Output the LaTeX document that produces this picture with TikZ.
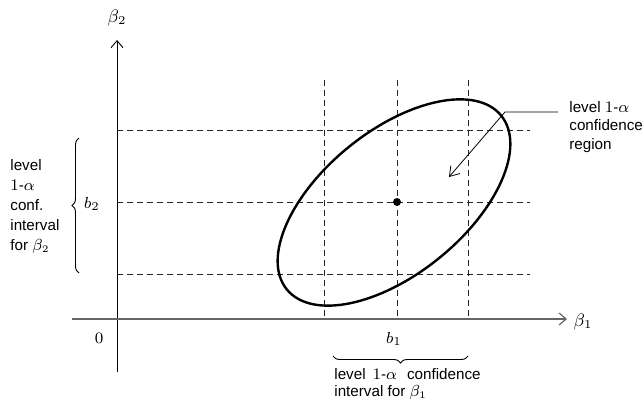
\documentclass[tikz,border=0pt]{standalone}
\usepackage[no-math]{fontspec}
\setmainfont{Liberation Sans}
\usetikzlibrary{arrows.meta, positioning, decorations.pathreplacing}

\begin{document}
\begin{tikzpicture}[x=0.5pt, y=-0.5pt,
  axis/.style={line width=0.45pt, -{Straight Barb[length=3.5pt, width=6pt]}},
  grid/.style={dash pattern=on 3pt off 2pt, line width=0.45pt, black!85},
  txt/.style={font=\fontsize{7.6}{10}\selectfont, align=left, inner sep=0pt},
  lab/.style={font=\fontsize{8}{9}\selectfont, inner sep=0pt},
  brc/.style={decorate, decoration={brace, amplitude=3.5pt}, line width=0.45pt}]
  \useasboundingbox (0,0) rectangle (644,407);

  % Axes
  \coordinate (ybot) at (117,372);
  \coordinate (ytop) at (117,40);
  \coordinate (xleft) at (72,319);
  \coordinate (xright) at (567,319);
  \draw[axis] (ybot) -- (ytop);
  \draw[axis, black!60, line width=0.6pt] (xleft) -- (xright);
  \node[lab, font=\fontsize{8.6}{9}\selectfont] (beta2) at (117,18) {$\beta_2$};
  \node[lab, font=\fontsize{8.6}{9}\selectfont] (beta1) at (583,322) {$\beta_1$};
  \node[lab] (zero) at (99,338) {$0$};

  % Dashed interval lines
  \foreach \y in {130,202,274}
    \draw[grid] (117,\y) -- (530,\y);
  \foreach \x in {324,397,468}
    \draw[grid] (\x,80) -- (\x,319);

  % Confidence region
  \coordinate (E) at (394,202.5);
  \draw[line width=1.2pt, rotate around={39:(E)}] (E) ellipse [x radius=69pt, y radius=35.8pt];
  \node[circle, fill=black, inner sep=0pt, minimum size=4pt] (b) at (397,202) {};

  % Estimates
  \node[lab] (b1) at (394,339) {$b_1$};
  \node[lab] (b2) at (92,204) {$b_2$};

  % Braces
  \coordinate (by1) at (79,273);
  \coordinate (by2) at (79,138);
  \draw[brc] (by1) -- (by2);
  \coordinate (bx1) at (468,356);
  \coordinate (bx2) at (333,356);
  \draw[brc] (bx1) -- (bx2);

  % Labels
  \node[txt, anchor=west] (ci2) at (10,207) {level\\$1$-$\alpha$\\conf.\\interval\\for $\beta_2$};
  \node[txt, font=\fontsize{7.6}{8.2}\selectfont, anchor=west] (ci1) at (334,384)
    {level\hspace{3.5pt}$1$-$\alpha$\hspace{5pt}confidence\\ interval for $\beta_1$};
  \node[txt, font=\fontsize{7.6}{9.2}\selectfont, anchor=west] (reg) at (569,127) {level $1$-$\alpha$\\confidence\\region};

  % Pointer to region
  \coordinate (regpt) at (558,112);
  \coordinate (bend) at (505,112);
  \coordinate (tip) at (449,177);
  \draw[line width=0.4pt, -{Straight Barb[length=4.5pt, width=6pt]}] (regpt) -- (bend) -- (tip);
\end{tikzpicture}
\end{document}
